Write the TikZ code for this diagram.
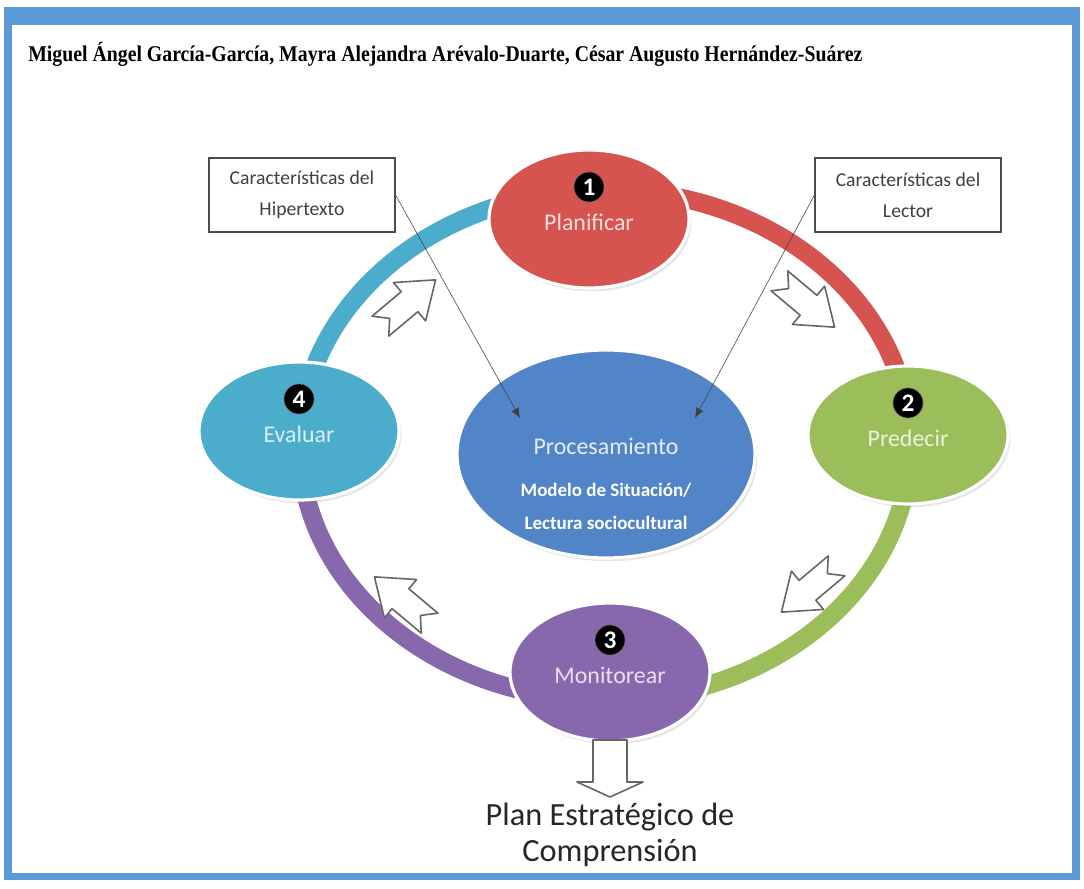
\documentclass[tikz,border=0pt]{standalone}
\usepackage{graphicx}
\usepackage{fontspec}
\setmainfont{Liberation Serif}
\newfontfamily\calibri{Carlito}
\usetikzlibrary{shapes.geometric,arrows.meta,shadows}

\definecolor{framebl}{RGB}{91,155,213}
\definecolor{phred}{RGB}{214,84,80}
\definecolor{phgreen}{RGB}{155,190,90}
\definecolor{phpurple}{RGB}{136,104,172}
\definecolor{phcyan}{RGB}{75,172,204}
\definecolor{procblue}{RGB}{82,133,200}

\begin{document}
\begin{tikzpicture}[x=0.25mm,y=0.25mm,
  phase/.style={ellipse, draw=white, line width=0.8mm, inner sep=0pt,
    minimum width=50mm, minimum height=34.5mm,
    drop shadow={opacity=0.2, shadow xshift=0.6mm, shadow yshift=-0.8mm}},
  phaselabel/.style={font=\calibri\fontsize{17}{20}\selectfont},
  num/.style={circle, fill=black, draw=black!60, text=white, inner sep=0pt,
    minimum size=7.5mm, font=\calibri\bfseries\fontsize{18}{18}\selectfont},
  ring/.style={line width=4.6mm},
  infobox/.style={draw=black!70, thick, minimum width=46.5mm, minimum height=18.5mm,
    align=center, text=black!75, font=\calibri\fontsize{14}{22}\selectfont},
  conn/.style={draw=black!75, -{Latex[length=2.5mm,width=2mm]}},
  blockarrow/.style={draw=black!60, fill=white, line width=0.4mm, line join=round}]

\useasboundingbox (0,0) rectangle (1084,888);
\fill[white] (0,0) rectangle (1084,888);

% Frame
\fill[framebl] (4,8) rectangle (1080,881);
\fill[white] (12,15) rectangle (1072,863);

% Authors
\node[anchor=base west, inner sep=0pt] (autores) at (28,826)
  {\resizebox{208.5mm}{\height}{\bfseries\fontsize{16}{18}\selectfont Miguel Ángel García-García, Mayra Alejandra Arévalo-Duarte, César Augusto Hernández-Suárez}};

% Cycle ring
\coordinate (ringc) at (605,443);
\draw[ring, phred] (ringc) ++(90:76.25mm and 63.75mm) arc[start angle=90, end angle=0, x radius=76.25mm, y radius=63.75mm];
\draw[ring, phgreen] (ringc) ++(0:76.25mm and 63.75mm) arc[start angle=0, end angle=-90, x radius=76.25mm, y radius=63.75mm];
\draw[ring, phpurple] (ringc) ++(270:76.25mm and 63.75mm) arc[start angle=270, end angle=180, x radius=76.25mm, y radius=63.75mm];
\draw[ring, phcyan] (ringc) ++(180:76.25mm and 63.75mm) arc[start angle=180, end angle=90, x radius=76.25mm, y radius=63.75mm];

% Notched arrows along the ring
\foreach \px/\py/\ang in {408/585/40, 807/584/-40, 809/299/220, 402/288/140} {
  \draw[blockarrow, shift={(\px,\py)}, rotate=\ang]
    (-36,13) -- (2,13) -- (2,25) -- (36,0) -- (2,-25) -- (2,-13) -- (-36,-13) -- (-24,0) -- cycle;
}

% Phases
\foreach \nm/\px/\py/\col/\num/\txt in {planificar/589/669/phred/1/Planificar,
    predecir/908/453/phgreen/2/Predecir, monitorear/610/216/phpurple/3/Monitorear,
    evaluar/299/457/phcyan/4/Evaluar} {
  \node[phase, fill=\col] (\nm) at (\px,\py) {};
  \node[num] (\nm-num) at ([yshift=8mm]\nm.center) {\num};
  \node[phaselabel, text=white!80!\col] (\nm-txt) at ([yshift=-0.75mm]\nm.center) {\txt};
}

% Central process
\node[phase, fill=procblue, minimum width=74.5mm, minimum height=52mm] (proc) at (606,434) {};
\node[align=center, text=white, font=\calibri\bfseries\fontsize{13.5}{23.5}\selectfont] (proc-txt)
  at ([yshift=-7.5mm]proc.center)
  {{\mdseries\color{white!85!procblue}\fontsize{17}{20}\selectfont Procesamiento}\\[2.2mm]
   Modelo de Situación/\\Lectura sociocultural};

% Influences
\node[infobox] (hiper) at (302,693) {Características del\\Hipertexto};
\node[infobox] (lector) at (908,693) {Características del\\Lector};
\coordinate (hiper-tip) at (520,470);
\coordinate (lector-tip) at (695,470);
\draw[conn] (hiper.east) -- (hiper-tip);
\draw[conn] (lector.west) -- (lector-tip);

% Output
\draw[blockarrow] (593,148) -- (627,148) -- (627,106) -- (643,106) -- (610,91)
  -- (577,106) -- (593,106) -- cycle;
\node[align=center, text=black!85, font=\calibri\fontsize{23}{26}\selectfont] (estrategia) at (610,53)
  {Plan Estratégico de\\Comprensión};

\end{tikzpicture}
\end{document}
